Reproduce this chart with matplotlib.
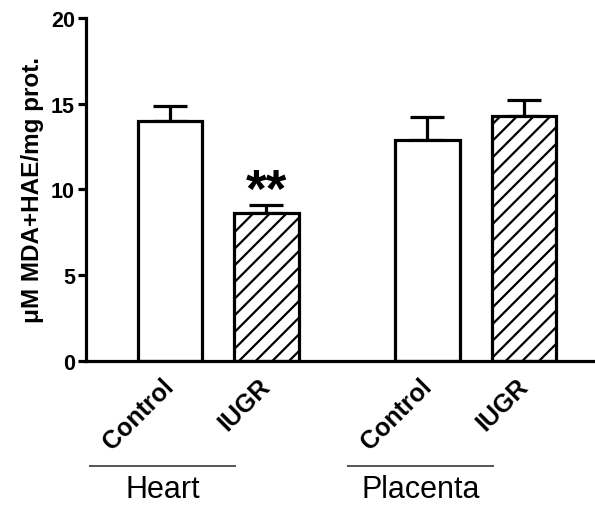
import matplotlib
matplotlib.use("Agg")
import matplotlib.pyplot as plt
from matplotlib.transforms import ScaledTranslation

# values
groups = ["Heart", "Placenta"]
conditions = ["Control", "IUGR", "Control", "IUGR"]
means = [14.0, 8.6, 12.9, 14.3]
sem = [0.85, 0.5, 1.3, 0.9]
hatches = ["", "//", "", "//"]
positions = [0, 1.5, 4, 5.5]

plt.rcParams["font.family"] = ["Liberation Sans", "DejaVu Sans"]
plt.rcParams["hatch.linewidth"] = 1.6

fig = plt.figure(figsize=(5.95, 5.06), dpi=100)
ax = fig.add_axes([0.1445, 0.2846, 0.8555, 0.6779])

lw = 2.3
for x, m, h in zip(positions, means, hatches):
    ax.bar(x, m, width=1.0, color="white", edgecolor="black",
           linewidth=lw, hatch=h, zorder=2)
ax.errorbar(positions, means, yerr=[[0] * len(sem), sem], fmt="none",
            ecolor="black", elinewidth=lw, capsize=12.5, capthick=lw, zorder=1)

ax.text(positions[1], means[1] + sem[1] + 0.75, "**", ha="center", va="center",
        fontsize=38, fontweight="bold")

ax.set_ylim(0, 20)
ax.set_xlim(-1.3, 6.6)
ax.set_yticks([0, 5, 10, 15, 20])
ax.set_yticklabels(["0", "5", "10", "15", "20"], fontsize=15.5, fontweight="bold")
ax.tick_params(axis="x", length=0, pad=9)
ax.tick_params(axis="y", width=lw, length=6, pad=2)
ax.set_xticks(positions)
ax.set_xticklabels(conditions, rotation=45, ha="right", va="top",
                   fontsize=18, fontweight="bold", rotation_mode="anchor")
# nudge the rotated labels left so their ends sit over the bar centres
shift = ScaledTranslation(-6 / 72, 0, fig.dpi_scale_trans)
for lab in ax.get_xticklabels():
    lab.set_transform(lab.get_transform() + shift)
ax.set_ylabel("\u03bcM MDA+HAE/mg prot.", fontsize=17.5, fontweight="bold", labelpad=5)

for s in ["top", "right"]:
    ax.spines[s].set_visible(False)
for s in ["left", "bottom"]:
    ax.spines[s].set_linewidth(lw)

# group brackets under the rotated tick labels
for g, (a, b) in zip(groups, [(positions[0], positions[1]), (positions[2], positions[3])]):
    x0, x1 = a - 1.23, b - 0.48
    ax.plot([x0, x1], [-6.15, -6.15], color="#555555", lw=1.4, clip_on=False)
    ax.text((x0 + x1) / 2, -6.6, g, ha="center", va="top", fontsize=22)

fig.savefig("out.png", dpi=100)
